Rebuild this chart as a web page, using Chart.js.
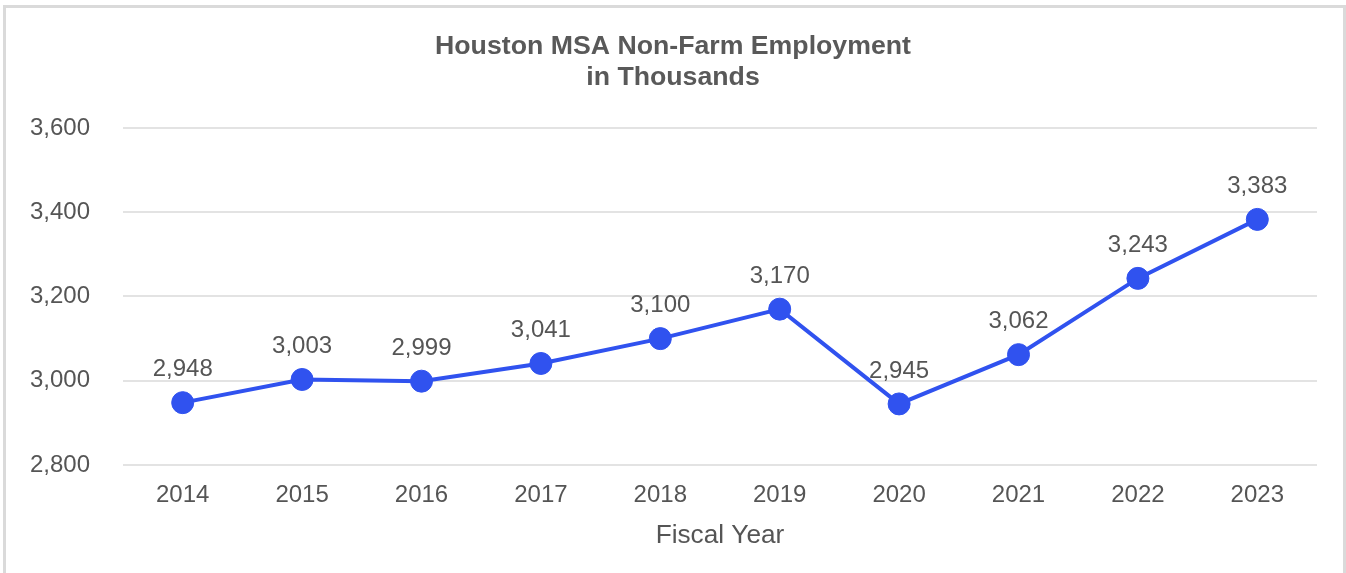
<!DOCTYPE html>
<html>
<head>
<meta charset="utf-8">
<script src="https://cdn.jsdelivr.net/npm/chart.js@4.4.1/dist/chart.umd.min.js"></script>
<style>
  html, body { margin: 0; padding: 0; background: #fff; }
  body { width: 1346px; height: 573px; overflow: hidden; position: relative; }
  #frame {
    position: absolute; left: 3px; top: 5px; width: 1343px; height: 700px;
    box-sizing: border-box; border: 3px solid #dadada;
  }
  #wrap { position: absolute; left: 0; top: 0; width: 1346px; height: 573px; }
</style>
</head>
<body>
<div id="frame"></div>
<div id="wrap"><canvas id="chart" width="1346" height="573"></canvas></div>
<script>
// Houston MSA non-farm employment, thousands of jobs, by fiscal year
const years = ['2014', '2015', '2016', '2017', '2018', '2019', '2020', '2021', '2022', '2023'];
const employment = [2948, 3003, 2999, 3041, 3100, 3170, 2945, 3062, 3243, 3383];
const titleLines = ['Houston MSA Non-Farm Employment', 'in Thousands'];
const xAxisTitle = 'Fiscal Year';

const TEXT = '#555555';
const LINE = '#3052ef';
const FONT = "'Liberation Sans', Arial, sans-serif";

const fmt = new Intl.NumberFormat('en-US');

// Writes each value just above its point
const valueLabels = {
  id: 'valueLabels',
  afterDatasetsDraw(chart) {
    const ctx = chart.ctx;
    const meta = chart.getDatasetMeta(0);
    const data = chart.data.datasets[0].data;
    ctx.save();
    ctx.font = '24px ' + FONT;
    ctx.fillStyle = TEXT;
    ctx.textAlign = 'center';
    ctx.textBaseline = 'middle';
    meta.data.forEach((pt, i) => {
      ctx.fillText(fmt.format(data[i]), pt.x, pt.y - 33);
    });
    ctx.restore();
  }
};

new Chart(document.getElementById('chart'), {
  type: 'line',
  data: {
    labels: years,
    datasets: [{
      data: employment,
      borderColor: LINE,
      backgroundColor: LINE,
      borderWidth: 4,
      pointRadius: 11,
      pointBorderWidth: 1,
      pointBorderColor: LINE,
      pointBackgroundColor: LINE,
      tension: 0,
      fill: false
    }]
  },
  options: {
    responsive: false,
    animation: false,
    devicePixelRatio: 1,
    layout: { padding: 0 },
    plugins: {
      legend: { display: false },
      tooltip: { enabled: false },
      title: {
        display: true,
        text: titleLines,
        color: '#595959',
        font: { family: FONT, size: 26.7, weight: 'bold', lineHeight: 1.17 },
        padding: { top: 31, bottom: 34.5 }
      }
    },
    scales: {
      x: {
        offset: true,
        grid: { display: false, drawTicks: false },
        border: { display: false },
        ticks: { color: TEXT, font: { family: FONT, size: 24 }, padding: 16, maxRotation: 0 },
        title: {
          display: true,
          text: xAxisTitle,
          color: TEXT,
          font: { family: FONT, size: 26.2 },
          padding: { top: 0, bottom: 22 }
        },
        afterFit(scale) { scale.height = 108; }
      },
      y: {
        min: 2800,
        max: 3600,
        ticks: {
          stepSize: 200,
          color: TEXT,
          font: { family: FONT, size: 24 },
          padding: 33,
          callback: v => fmt.format(v)
        },
        grid: { color: '#e3e3e3', lineWidth: 2, drawTicks: false },
        border: { display: false },
        afterFit(scale) { scale.width = 123; }
      },
      // empty right-hand margin, keeps the title centred on the full width
      yRight: {
        position: 'right',
        display: true,
        grid: { display: false, drawTicks: false },
        border: { display: false },
        ticks: { display: false },
        afterFit(scale) { scale.width = 29; }
      }
    }
  },
  plugins: [valueLabels]
});
</script>
</body>
</html>
